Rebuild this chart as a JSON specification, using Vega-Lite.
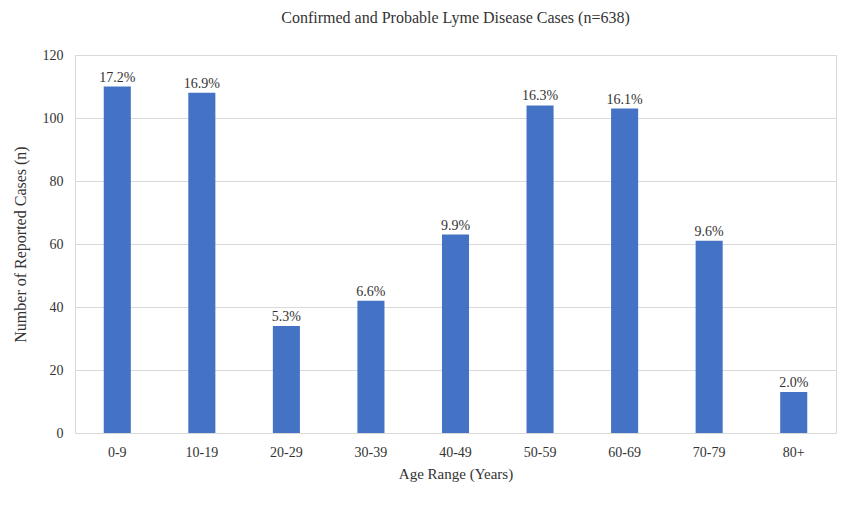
{
  "$schema": "https://vega.github.io/schema/vega-lite/v6.json",
  "width": 761,
  "height": 378,
  "autosize": {"type": "none"},
  "padding": {"left": 75, "top": 55, "right": 10, "bottom": 74},
  "background": "white",
  "title": {
    "text": "Confirmed and Probable Lyme Disease Cases (n=638)",
    "font": "Liberation Serif",
    "fontSize": 16,
    "fontWeight": "normal",
    "color": "#333333",
    "anchor": "middle",
    "offset": 22
  },
  "config": {
    "view": {"stroke": "#d9d9d9", "strokeWidth": 1},
    "font": "Liberation Serif"
  },
  "data": {
    "values": [
      {"age": "0-9", "cases": 110, "pct": "17.2%"},
      {"age": "10-19", "cases": 108, "pct": "16.9%"},
      {"age": "20-29", "cases": 34, "pct": "5.3%"},
      {"age": "30-39", "cases": 42, "pct": "6.6%"},
      {"age": "40-49", "cases": 63, "pct": "9.9%"},
      {"age": "50-59", "cases": 104, "pct": "16.3%"},
      {"age": "60-69", "cases": 103, "pct": "16.1%"},
      {"age": "70-79", "cases": 61, "pct": "9.6%"},
      {"age": "80+", "cases": 13, "pct": "2.0%"}
    ]
  },
  "encoding": {
    "x": {
      "field": "age",
      "type": "ordinal",
      "sort": null,
      "scale": {"paddingInner": 0.68, "paddingOuter": 0.34},
      "axis": {
        "title": "Age Range (Years)",
        "labelAngle": 0,
        "labelFont": "Liberation Serif",
        "labelFontSize": 14,
        "labelColor": "#333333",
        "labelPadding": 12,
        "titleFont": "Liberation Serif",
        "titleFontSize": 15,
        "titleFontWeight": "normal",
        "titleColor": "#333333",
        "titlePadding": 7,
        "ticks": false,
        "domainColor": "#d9d9d9"
      }
    },
    "y": {
      "field": "cases",
      "type": "quantitative",
      "scale": {"domain": [0, 120]},
      "axis": {
        "title": "Number of Reported Cases (n)",
        "values": [0, 20, 40, 60, 80, 100, 120],
        "labelFont": "Liberation Serif",
        "labelFontSize": 14,
        "labelColor": "#333333",
        "labelPadding": 12,
        "titleFont": "Liberation Serif",
        "titleFontSize": 16,
        "titleFontWeight": "normal",
        "titleColor": "#333333",
        "titlePadding": 14,
        "ticks": false,
        "domain": false,
        "gridColor": "#d9d9d9"
      }
    }
  },
  "layer": [
    {"mark": {"type": "bar", "color": "#4472c4"}},
    {
      "mark": {"type": "text", "dy": -9, "fontSize": 14, "font": "Liberation Serif", "color": "#333333"},
      "encoding": {"text": {"field": "pct"}}
    }
  ]
}
